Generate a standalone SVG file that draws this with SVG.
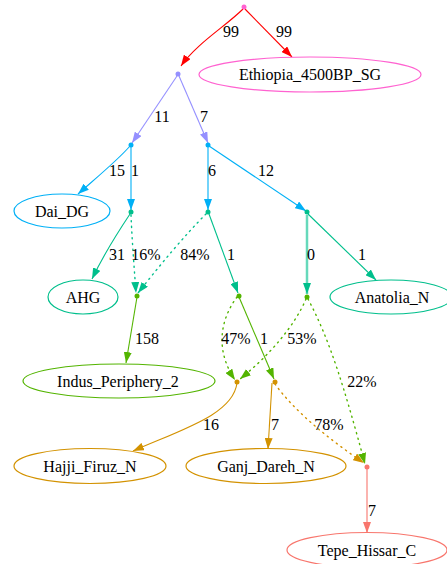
<svg xmlns="http://www.w3.org/2000/svg" width="447" height="564" viewBox="0 0 447 564">
<style>
.e{fill:none;stroke-width:1.1}
.d{stroke-dasharray:1.2 4.5;stroke-linecap:round;stroke-width:1.4}
.n{fill:#fff;stroke-width:1.2}
.red{stroke:#ff0000}.lav{stroke:#9590ff}.blu{stroke:#00b0f6}.tea{stroke:#00bf8c}.grn{stroke:#53b400}.gld{stroke:#d39200}.sal{stroke:#f8766d}.pnk{stroke:#ff62d0}
</style>
<defs>
<marker id="aRed" markerWidth="11" markerHeight="8" refX="11" refY="4" orient="auto" markerUnits="userSpaceOnUse"><path d="M0,0L11,4L0,8z" fill="#ff0000"/></marker>
<marker id="aLav" markerWidth="11" markerHeight="8" refX="11" refY="4" orient="auto" markerUnits="userSpaceOnUse"><path d="M0,0L11,4L0,8z" fill="#9590ff"/></marker>
<marker id="aBlu" markerWidth="11" markerHeight="8" refX="11" refY="4" orient="auto" markerUnits="userSpaceOnUse"><path d="M0,0L11,4L0,8z" fill="#00b0f6"/></marker>
<marker id="aTea" markerWidth="11" markerHeight="8" refX="11" refY="4" orient="auto" markerUnits="userSpaceOnUse"><path d="M0,0L11,4L0,8z" fill="#00bf8c"/></marker>
<marker id="aGrn" markerWidth="11" markerHeight="8" refX="11" refY="4" orient="auto" markerUnits="userSpaceOnUse"><path d="M0,0L11,4L0,8z" fill="#53b400"/></marker>
<marker id="aGld" markerWidth="11" markerHeight="8" refX="11" refY="4" orient="auto" markerUnits="userSpaceOnUse"><path d="M0,0L11,4L0,8z" fill="#d39200"/></marker>
<marker id="aSal" markerWidth="11" markerHeight="8" refX="11" refY="4" orient="auto" markerUnits="userSpaceOnUse"><path d="M0,0L11,4L0,8z" fill="#f8766d"/></marker>
</defs>
<rect width="447" height="564" fill="#fff"/>
<g font-family="Liberation Serif, Times New Roman, serif" font-size="16" text-anchor="middle" fill="#000">
<g id="connectors">
<path class="e red" d="M243,9 C226,26 196,44 181,66" marker-end="url(#aRed)"/>
<path class="e red" d="M245,9 L292,57" marker-end="url(#aRed)"/>
<path class="e lav" d="M177,76 L132,143" marker-end="url(#aLav)"/>
<path class="e lav" d="M179,76 L208,143" marker-end="url(#aLav)"/>
<path class="e blu" d="M130,146 C118,160 96,178 78,194" marker-end="url(#aBlu)"/>
<path class="e blu" d="M131,147 L131,210" marker-end="url(#aBlu)"/>
<path class="e blu" d="M208,147 L208,210" marker-end="url(#aBlu)"/>
<path class="e blu" d="M209,146 L306,211" marker-end="url(#aBlu)"/>
<path class="e tea" d="M130,214 C118,232 103,256 92,279" marker-end="url(#aTea)"/>
<path class="e tea d" d="M131,215 C132,240 134,265 136,293" marker-end="url(#aTea)"/>
<path class="e tea d" d="M206,214 C185,235 160,265 138,293" marker-end="url(#aTea)"/>
<path class="e tea" d="M209,214 L238,293" marker-end="url(#aTea)"/>
<path d="M307,215 L307,294" fill="none" stroke="#66d9bb" stroke-width="2.5" marker-end="url(#aTea)"/>
<path class="e tea" d="M308,214 L376,280" marker-end="url(#aTea)"/>
<path class="e grn" d="M137,297 L126,363" marker-end="url(#aGrn)"/>
<path class="e grn d" d="M237,297 C220,320 215,350 235,380" marker-end="url(#aGrn)"/>
<path class="e grn" d="M239,297 L274,379" marker-end="url(#aGrn)"/>
<path class="e grn d" d="M306,299 C295,325 270,355 240,379" marker-end="url(#aGrn)"/>
<path class="e grn d" d="M308,299 C330,340 345,390 365,464" marker-end="url(#aGrn)"/>
<path class="e gld" d="M237,383 C233,415 180,430 133,451" marker-end="url(#aGld)"/>
<path class="e gld" d="M272,383 L268,449" marker-end="url(#aGld)"/>
<path class="e gld d" d="M275,384 C295,412 330,440 364,463" marker-end="url(#aGld)"/>
<path class="e sal" d="M367,469 L367,533" marker-end="url(#aSal)"/>
<text x="231" y="37">99</text>
<text x="284" y="37">99</text>
<text x="162" y="122">11</text>
<text x="204" y="122">7</text>
<text x="117" y="176">15</text>
<text x="135" y="176">1</text>
<text x="212" y="176">6</text>
<text x="266" y="176">12</text>
<text x="117" y="260">31</text>
<text x="146" y="260">16%</text>
<text x="195" y="260">84%</text>
<text x="231" y="260">1</text>
<text x="311" y="260">0</text>
<text x="362" y="260">1</text>
<text x="147" y="344">158</text>
<text x="236" y="344">47%</text>
<text x="264" y="344">1</text>
<text x="302" y="344">53%</text>
<text x="362" y="387">22%</text>
<text x="211" y="430">16</text>
<text x="275" y="430">7</text>
<text x="329" y="430">78%</text>
<text x="372" y="516">7</text>
</g>
<g id="root"><circle cx="244" cy="7" r="2.5" fill="#ff62d0"/></g>
<g id="n1"><circle cx="178" cy="74" r="2.5" fill="#9590ff"/></g>
<g id="n2"><circle cx="131" cy="145" r="2.5" fill="#00b0f6"/></g>
<g id="n3"><circle cx="208" cy="145" r="2.5" fill="#00b0f6"/></g>
<g id="n4"><circle cx="131" cy="212" r="2.5" fill="#00bf8c"/></g>
<g id="n5"><circle cx="208" cy="212" r="2.5" fill="#00bf8c"/></g>
<g id="n6"><circle cx="307" cy="212" r="2.5" fill="#00bf8c"/></g>
<g id="n7"><circle cx="137" cy="296" r="2.5" fill="#53b400"/></g>
<g id="n8"><circle cx="239" cy="296" r="2.5" fill="#53b400"/></g>
<g id="n9"><circle cx="307" cy="297" r="2.5" fill="#53b400"/></g>
<g id="n10"><circle cx="237" cy="382" r="2.5" fill="#d39200"/></g>
<g id="n11"><circle cx="275" cy="382" r="2.5" fill="#d39200"/></g>
<g id="n12"><circle cx="367" cy="467" r="2.5" fill="#f8766d"/></g>
<g id="Ethiopia_4500BP_SG"><ellipse class="n pnk" cx="310" cy="74.5" rx="111" ry="17.5"/><text x="310" y="80">Ethiopia_4500BP_SG</text></g>
<g id="Dai_DG"><ellipse class="n blu" cx="62" cy="211" rx="48" ry="17"/><text x="62" y="216.5">Dai_DG</text></g>
<g id="AHG"><ellipse class="n tea" cx="83" cy="297" rx="35" ry="17"/><text x="83" y="302.5">AHG</text></g>
<g id="Anatolia_N"><ellipse class="n tea" cx="391" cy="297" rx="61" ry="17"/><text x="392" y="302.5">Anatolia_N</text></g>
<g id="Indus_Periphery_2"><ellipse class="n grn" cx="119" cy="381" rx="96" ry="17"/><text x="118" y="386.5">Indus_Periphery_2</text></g>
<g id="Hajji_Firuz_N"><ellipse class="n gld" cx="90" cy="466" rx="76" ry="17.5"/><text x="90" y="471.5">Hajji_Firuz_N</text></g>
<g id="Ganj_Dareh_N"><ellipse class="n gld" cx="266" cy="466" rx="80" ry="17.5"/><text x="266" y="471.5">Ganj_Dareh_N</text></g>
<g id="Tepe_Hissar_C"><ellipse class="n sal" cx="367" cy="550" rx="80" ry="17.5"/><text x="367" y="555.5">Tepe_Hissar_C</text></g>
</g>
</svg>
